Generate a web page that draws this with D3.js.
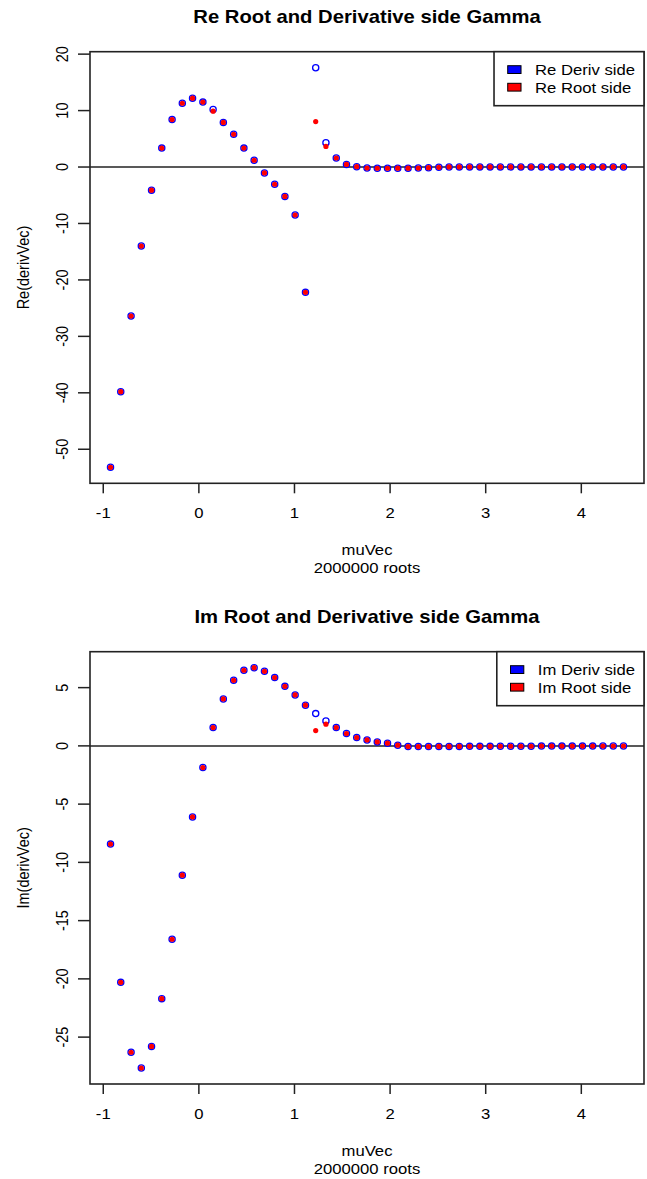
<!DOCTYPE html>
<html>
<head>
<meta charset="utf-8">
<script src="https://cdn.jsdelivr.net/npm/d3@7"></script>
<style>
  body { margin: 0; background: #fff; }
</style>
</head>
<body>
<div id="chart"></div>
<script>
// x positions of the 51 roots
var muVec = [-0.924, -0.817, -0.709, -0.602, -0.495, -0.388, -0.280, -0.173, -0.066, 0.042,
  0.149, 0.256, 0.364, 0.471, 0.578, 0.686, 0.793, 0.900, 1.007, 1.115,
  1.222, 1.329, 1.437, 1.544, 1.651, 1.759, 1.866, 1.973, 2.080, 2.188,
  2.295, 2.402, 2.510, 2.617, 2.724, 2.832, 2.939, 3.046, 3.153, 3.261,
  3.368, 3.475, 3.583, 3.690, 3.797, 3.905, 4.012, 4.119, 4.226, 4.334, 4.441];

var reDerivSide = [-53.2, -39.8, -26.4, -14.0, -4.1, 3.35, 8.4, 11.3, 12.2, 11.5,
  10.2, 7.9, 5.8, 3.35, 1.2, -1.05, -3.05, -5.2, -8.5, -22.2,
  17.6, 4.3, 1.6, 0.47, 0.06, -0.17, -0.22, -0.22, -0.21, -0.2,
  -0.18, -0.12, -0.05, 0.01, 0.02, 0.02, 0.02, 0.02, 0.02, 0.02,
  0.02, 0.02, 0.02, 0.02, 0.02, 0.01, 0.01, 0.01, 0.01, 0.01, 0.01];

var reRootSide = [-53.2, -39.8, -26.4, -14.0, -4.1, 3.35, 8.4, 11.3, 12.2, 11.5,
  9.9, 7.9, 5.8, 3.35, 1.2, -1.05, -3.05, -5.2, -8.5, -22.2,
  8.06, 3.65, 1.6, 0.47, 0.06, -0.17, -0.22, -0.22, -0.21, -0.2,
  -0.18, -0.12, -0.05, 0.01, 0.02, 0.02, 0.02, 0.02, 0.02, 0.02,
  0.02, 0.02, 0.02, 0.02, 0.02, 0.01, 0.01, 0.01, 0.01, 0.01, 0.01];

var imDerivSide = [-8.43, -20.3, -26.3, -27.65, -25.8, -21.7, -16.6, -11.1, -6.1, -1.86,
  1.57, 4.03, 5.63, 6.49, 6.71, 6.4, 5.86, 5.11, 4.37, 3.49,
  2.77, 2.14, 1.57, 1.06, 0.71, 0.51, 0.34, 0.23, 0.06, -0.06,
  -0.06, -0.06, -0.05, -0.05, -0.05, -0.04, -0.04, -0.04, -0.03, -0.03,
  -0.03, -0.03, -0.02, -0.02, -0.02, -0.02, -0.02, -0.02, -0.01, -0.01, -0.01];

var imRootSide = [-8.43, -20.3, -26.3, -27.65, -25.8, -21.7, -16.6, -11.1, -6.1, -1.86,
  1.57, 4.03, 5.63, 6.49, 6.71, 6.4, 5.86, 5.11, 4.37, 3.49,
  1.31, 1.86, 1.57, 1.06, 0.71, 0.51, 0.34, 0.23, 0.06, -0.06,
  -0.06, -0.06, -0.05, -0.05, -0.05, -0.04, -0.04, -0.04, -0.03, -0.03,
  -0.03, -0.03, -0.02, -0.02, -0.02, -0.02, -0.02, -0.02, -0.01, -0.01, -0.01];

var xTicks = [-1, 0, 1, 2, 3, 4];
var reTicks = [20, 10, 0, -10, -20, -30, -40, -50];
var imTicks = [5, 0, -5, -10, -15, -20, -25];

var SX = 1.15;   // the picture is stretched sideways a bit
var FONT = "'Liberation Sans', Arial, sans-serif";
var LINE = "#222";

var svg = d3.select("#chart").append("svg")
  .attr("width", 647)
  .attr("height", 1179);

svg.append("rect").attr("width", 647).attr("height", 1179).attr("fill", "#fff");

// R style axis range: data extent plus 4% each side
function rRange(vals) {
  var e = d3.extent(vals);
  var pad = (e[1] - e[0]) * 0.04;
  return [e[0] - pad, e[1] + pad];
}

function addText(g, x, y, str, size, anchor, rotate, weight) {
  return g.append("text")
    .attr("transform", "translate(" + x + "," + y + ") scale(" + SX + ",1)" + (rotate ? " rotate(-90)" : ""))
    .attr("text-anchor", anchor)
    .attr("font-family", FONT)
    .attr("font-size", size)
    .attr("font-weight", weight || "normal")
    .attr("fill", "#000")
    .text(str);
}

function drawPanel(p) {
  var left = 90, right = 644;
  var g = svg.append("g");

  var x = d3.scaleLinear().domain(rRange(muVec)).range([left, right]);
  var y = d3.scaleLinear().domain(rRange(p.deriv.concat(p.root))).range([p.bottom, p.top]);

  // zero line
  g.append("line")
    .attr("x1", left).attr("x2", right)
    .attr("y1", y(0)).attr("y2", y(0))
    .attr("stroke", LINE).attr("stroke-width", 1.5);

  g.selectAll("circle.deriv")
    .data(muVec)
    .enter().append("circle")
    .attr("class", "deriv")
    .attr("cx", function(d) { return x(d); })
    .attr("cy", function(d, i) { return y(p.deriv[i]); })
    .attr("r", 3.1)
    .attr("fill", "none")
    .attr("stroke", "blue")
    .attr("stroke-width", 1.3);

  g.selectAll("circle.root")
    .data(muVec)
    .enter().append("circle")
    .attr("class", "root")
    .attr("cx", function(d) { return x(d); })
    .attr("cy", function(d, i) { return y(p.root[i]); })
    .attr("r", 2.6)
    .attr("fill", "red");

  // box
  g.append("rect")
    .attr("x", left).attr("y", p.top)
    .attr("width", right - left).attr("height", p.bottom - p.top)
    .attr("fill", "none").attr("stroke", LINE).attr("stroke-width", 1.6);

  // x axis
  g.selectAll("line.xt")
    .data(xTicks)
    .enter().append("line")
    .attr("x1", function(d) { return x(d); }).attr("x2", function(d) { return x(d); })
    .attr("y1", p.bottom).attr("y2", p.bottom + 10)
    .attr("stroke", LINE).attr("stroke-width", 1.5);
  xTicks.forEach(function(d) {
    addText(g, x(d), p.bottom + 35, String(d), 14.5, "middle");
  });

  // y axis
  g.selectAll("line.yt")
    .data(p.ticks)
    .enter().append("line")
    .attr("x1", left - 12).attr("x2", left)
    .attr("y1", function(d) { return y(d); }).attr("y2", function(d) { return y(d); })
    .attr("stroke", LINE).attr("stroke-width", 1.5);
  p.ticks.forEach(function(d) {
    addText(g, 67.7, y(d), String(d), 14.5, "middle", true);
  });

  addText(g, 29, (p.top + p.bottom) / 2, p.ylab, 14.5, "middle", true);
  addText(g, (left + right) / 2, p.bottom + 71.7, "muVec", 14.5, "middle");
  addText(g, (left + right) / 2, p.bottom + 90, "2000000 roots", 14.5, "middle");
  addText(g, (left + right) / 2, p.top - 28.4, p.title, 17.6, "middle", false, "bold");

  // legend, top right
  var lg = g.append("g");
  var t1 = addText(lg, 0, p.top + 23.3, p.legend[0], 14.5, "start");
  var t2 = addText(lg, 0, p.top + 41, p.legend[1], 14.5, "start");
  var tw = Math.max(t1.node().getComputedTextLength(), t2.node().getComputedTextLength()) * SX;
  var lx = right - tw - 9 - 41;
  t1.attr("transform", "translate(" + (lx + 41) + "," + (p.top + 23.3) + ") scale(" + SX + ",1)");
  t2.attr("transform", "translate(" + (lx + 41) + "," + (p.top + 41) + ") scale(" + SX + ",1)");
  lg.insert("rect", "text")
    .attr("x", lx).attr("y", p.top)
    .attr("width", right - lx).attr("height", 54)
    .attr("fill", "#fff").attr("stroke", LINE).attr("stroke-width", 1.6);
  lg.selectAll("rect.key")
    .data(["blue", "red"])
    .enter().append("rect")
    .attr("class", "key")
    .attr("x", lx + 13.7)
    .attr("y", function(d, i) { return p.top + 14 + i * 17.6; })
    .attr("width", 13.3).attr("height", 7.8)
    .attr("fill", function(d) { return d; })
    .attr("stroke", "#000").attr("stroke-width", 1);
}

drawPanel({
  top: 51.7, bottom: 483.3,
  deriv: reDerivSide, root: reRootSide, ticks: reTicks,
  ylab: "Re(derivVec)", title: "Re Root and Derivative side Gamma",
  legend: ["Re Deriv side", "Re Root side"]
});

drawPanel({
  top: 651.7, bottom: 1084,
  deriv: imDerivSide, root: imRootSide, ticks: imTicks,
  ylab: "Im(derivVec)", title: "Im Root and Derivative side Gamma",
  legend: ["Im Deriv side", "Im Root side"]
});
</script>
</body>
</html>
